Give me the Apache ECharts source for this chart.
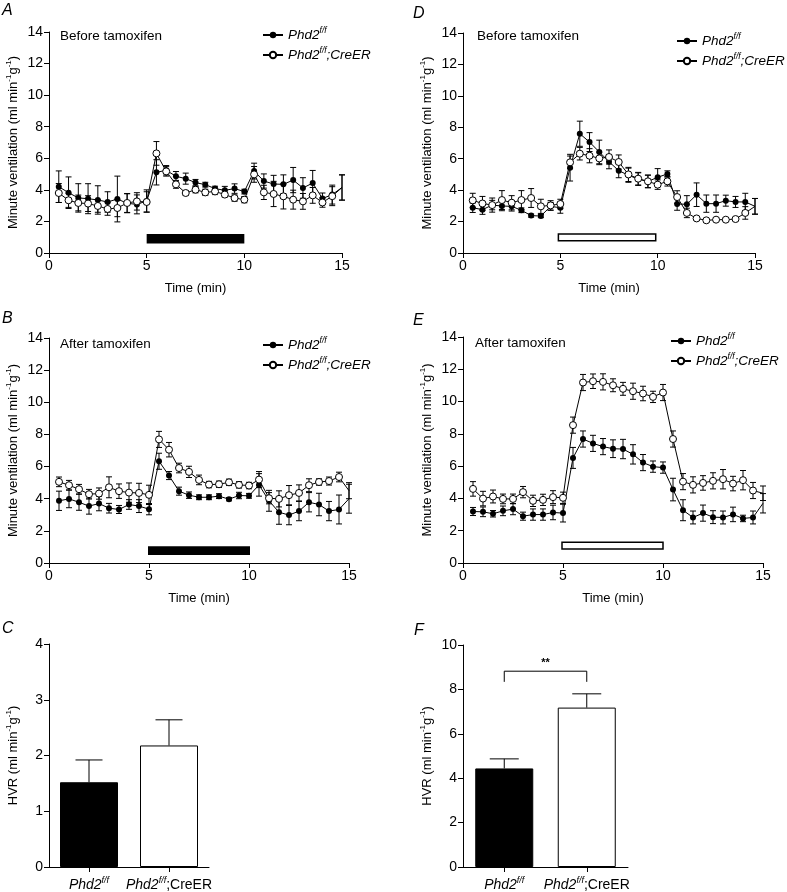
<!DOCTYPE html>
<html><head><meta charset="utf-8">
<script src="https://cdn.jsdelivr.net/npm/echarts@6/dist/echarts.min.js"></script>
<style>html,body{margin:0;padding:0;background:#fff}#c{width:787px;height:892px}</style>
</head><body><div id="c"></div>
<script>
const FONT = 'Liberation Sans, Arial, Helvetica, sans-serif';
const K = '#000';

// Time points (min)
const time = [0.5,1,1.5,2,2.5,3,3.5,4,4.5,5,5.5,6,6.5,7,7.5,8,8.5,9,9.5,10,10.5,11,11.5,12,12.5,13,13.5,14,14.5,15];

// Panel A: before tamoxifen (left)
const A_wt    = [4.2,3.82,3.49,3.44,3.36,3.23,3.42,3.15,3.08,3.3,5.11,5.24,4.86,4.71,4.46,4.33,4.08,3.97,4.08,3.89,5.19,4.56,4.37,4.35,4.62,4.12,4.43,3.45,3.7,4.15];
const A_wtErr = [1.0,1.0,0.9,0.95,0.9,0.65,1.45,0.6,0.6,0.7,0.8,0.3,0.3,0.35,0.2,0.15,0.15,0.25,0.3,0.15,0.5,0.45,0.55,0.6,0.8,0.65,0.8,0.35,0.6,0.8];
const A_ko    = [3.8,3.34,3.17,3.13,2.98,2.79,2.85,3.17,3.27,3.23,6.31,5.17,4.35,3.8,4.01,3.84,3.9,3.7,3.48,3.38,4.98,3.84,3.74,3.59,3.38,3.27,3.65,3.2,3.6,4.15];
const A_koErr = [0.6,0.45,0.5,0.5,0.4,0.4,0.55,0.6,0.55,0.65,0.75,0.3,0.25,0.15,0.2,0.2,0.2,0.15,0.2,0.2,0.5,0.45,0.8,0.8,0.6,0.5,0.5,0.3,0.6,0.8];

// Panel B: after tamoxifen (left)
const B_wt    = [3.87,3.99,3.78,3.54,3.7,3.41,3.33,3.64,3.54,3.35,6.33,5.44,4.47,4.22,4.09,4.09,4.16,3.97,4.2,4.18,4.86,3.87,3.16,2.98,3.23,3.78,3.64,3.23,3.33,4.0];
const B_wtErr = [0.6,0.55,0.5,0.5,0.45,0.3,0.25,0.3,0.4,0.35,0.5,0.25,0.25,0.2,0.15,0.15,0.15,0.1,0.2,0.15,0.7,0.65,0.75,0.6,0.6,0.6,0.7,0.6,0.9,0.9];
const B_ko    = [5.05,4.84,4.59,4.28,4.32,4.71,4.47,4.38,4.36,4.24,7.69,7.05,5.91,5.67,5.17,4.88,4.9,5.02,4.86,4.82,5.19,4.03,3.99,4.22,4.36,4.84,5.04,5.1,5.35,4.5];
const B_koErr = [0.3,0.3,0.3,0.3,0.35,0.65,0.45,0.6,0.6,0.6,0.5,0.45,0.3,0.35,0.3,0.2,0.2,0.2,0.2,0.2,0.5,0.35,0.5,0.6,0.5,0.4,0.2,0.25,0.3,0.5];

// Panel D: before tamoxifen (right)
const D_wt    = [2.88,2.76,3.05,2.99,2.97,2.72,2.38,2.35,2.97,2.88,5.43,7.59,7.06,6.43,5.81,5.24,4.95,4.7,4.55,4.82,5.03,3.12,3.1,3.71,3.14,3.14,3.33,3.25,3.25,2.97];
const D_wtErr = [0.3,0.3,0.3,0.3,0.3,0.15,0.1,0.1,0.25,0.35,0.85,0.8,0.6,0.75,0.45,0.45,0.45,0.4,0.4,0.55,0.2,0.4,0.55,0.75,0.55,0.55,0.35,0.35,0.55,0.5];
const D_ko    = [3.35,3.15,3.05,3.37,3.2,3.37,3.5,2.97,3.03,3.12,5.77,6.32,6.19,6.02,6.11,5.79,5.0,4.73,4.56,4.35,4.56,3.56,2.55,2.2,2.08,2.12,2.12,2.16,2.55,2.97];
const D_koErr = [0.45,0.45,0.45,0.6,0.45,0.6,0.6,0.45,0.3,0.3,0.4,0.4,0.45,0.4,0.45,0.45,0.45,0.4,0.4,0.3,0.3,0.4,0.3,0.1,0.1,0.1,0.1,0.1,0.4,0.5];

// Panel E: after tamoxifen (right)
const E_wt    = [3.19,3.17,3.05,3.23,3.34,2.9,3.0,3.0,3.13,3.09,6.51,7.68,7.41,7.21,7.08,7.06,6.73,6.22,5.97,5.91,4.55,3.27,2.82,3.09,2.84,2.82,3.01,2.76,2.82,3.7];
const E_wtErr = [0.25,0.3,0.2,0.3,0.35,0.25,0.35,0.35,0.45,0.55,0.65,0.5,0.5,0.5,0.55,0.6,0.6,0.5,0.35,0.35,0.7,0.65,0.4,0.5,0.4,0.4,0.45,0.2,0.4,0.6];
const E_ko    = [4.59,3.99,4.12,3.97,3.97,4.39,3.85,3.91,4.08,4.04,8.54,11.18,11.26,11.22,11.01,10.79,10.64,10.5,10.29,10.56,7.68,5.04,4.84,4.96,5.09,5.19,4.92,5.13,4.49,4.32];
const E_koErr = [0.45,0.45,0.4,0.3,0.3,0.35,0.35,0.35,0.4,0.35,0.5,0.5,0.45,0.5,0.4,0.4,0.5,0.45,0.35,0.5,0.5,0.5,0.5,0.45,0.5,0.6,0.45,0.6,0.5,0.45];

// Hypoxia bars: [xStart, xEnd, yLow, yHigh]
const stimA = [5, 10, 0.6, 1.2];
const stimB = [4.95, 10.05, 0.5, 1.05];
const stimD = [4.9, 9.9, 0.78, 1.21];
const stimE = [4.95, 10, 0.86, 1.28];

// HVR bar panels
const barCats = ['wt', 'ko'];
const C_hvr = [1.52, 2.18];
const C_err = [0.40, 0.46];
const F_hvr = [4.44, 7.18];
const F_err = [0.43, 0.62];
const F_bracket = [8.34, 8.82];

const supRich = {
  n: {fontFamily: FONT, fontSize: 13, color: K, lineHeight: 17},
  s: {fontFamily: FONT, fontSize: 8, color: K, verticalAlign: 'top', lineHeight: 10}
};
const ventName = '{n|Minute ventilation (ml min}{s|-1}{n|g}{s|-1}{n|)}';
const hvrName = '{n|HVR (ml min}{s|-1}{n|g}{s|-1}{n|)}';

const grids = [
  {left: 49, top: 32, width: 293, height: 221},   // A
  {left: 463, top: 33, width: 292, height: 220},  // D
  {left: 49, top: 338, width: 300, height: 225},  // B
  {left: 463, top: 337, width: 300, height: 226}, // E
  {left: 49, top: 644, width: 160, height: 223},  // C
  {left: 463, top: 645, width: 165, height: 222}  // F
];

const axLine = {show: true, lineStyle: {color: K, width: 1}};
const axTick = {show: true, inside: false, length: 5, lineStyle: {color: K, width: 1}};
const axLabel = {fontFamily: FONT, fontSize: 14, color: K, margin: 6};

const xAxes = [], yAxes = [];
for (let g = 0; g < 4; g++) {
  xAxes.push({type: 'value', gridIndex: g, min: 0, max: 15, interval: 5,
    axisLine: axLine, axisTick: axTick, axisLabel: axLabel, splitLine: {show: false},
    name: 'Time (min)', nameLocation: 'middle', nameGap: 29,
    nameTextStyle: {fontFamily: FONT, fontSize: 13, color: K}});
  yAxes.push({type: 'value', gridIndex: g, min: 0, max: 14, interval: 2,
    axisLine: axLine, axisTick: axTick, axisLabel: axLabel, splitLine: {show: false},
    name: ventName, nameLocation: 'middle', nameRotate: 90, nameGap: 27,
    nameTextStyle: {rich: supRich}});
}
const catFmt = v => v === 'wt' ? '{i|Phd2}{s|f/f}' : '{i|Phd2}{s|f/f}{n|;CreER}';
const catRich = {
  i: {fontFamily: FONT, fontSize: 14, color: K, fontStyle: 'italic', lineHeight: 18},
  n: {fontFamily: FONT, fontSize: 14, color: K, lineHeight: 18},
  s: {fontFamily: FONT, fontSize: 9, color: K, fontStyle: 'italic', verticalAlign: 'top', lineHeight: 11}
};
[4, 5].forEach((g, k) => {
  xAxes.push({type: 'category', gridIndex: g, data: barCats,
    axisLine: axLine, axisTick: {show: true, alignWithLabel: true, length: 5, lineStyle: {color: K}},
    axisLabel: {formatter: catFmt, rich: catRich, margin: 9, interval: 0, hideOverlap: false}, splitLine: {show: false}});
  yAxes.push({type: 'value', gridIndex: g, min: 0, max: k === 0 ? 4 : 10, interval: k === 0 ? 1 : 2,
    axisLine: axLine, axisTick: axTick, axisLabel: axLabel, splitLine: {show: false},
    name: hvrName, nameLocation: 'middle', nameRotate: 90, nameGap: 27,
    nameTextStyle: {rich: supRich}});
});

const series = [];
function errSeries(g, vals, e) {
  return {
    type: 'custom', xAxisIndex: g, yAxisIndex: g, z: 2, silent: true, animation: false,
    data: time.map((t, i) => [t, vals[i] - e[i], vals[i] + e[i]]),
    encode: {x: 0, y: [1, 2]},
    renderItem: (params, api) => {
      const x = api.value(0);
      const lo = api.coord([x, api.value(1)]), hi = api.coord([x, api.value(2)]);
      const w = 3, st = {stroke: K, lineWidth: 1};
      return {type: 'group', children: [
        {type: 'line', shape: {x1: lo[0], y1: lo[1], x2: hi[0], y2: hi[1]}, style: st},
        {type: 'line', shape: {x1: lo[0] - w, y1: lo[1], x2: lo[0] + w, y2: lo[1]}, style: st},
        {type: 'line', shape: {x1: hi[0] - w, y1: hi[1], x2: hi[0] + w, y2: hi[1]}, style: st}
      ]};
    }
  };
}
function pts(vals) {
  return time.map((t, i) => i === time.length - 1 ? {value: [t, vals[i]], symbol: 'none'} : [t, vals[i]]);
}
function linePanel(g, wt, wtE, ko, koE, stim, filled) {
  series.push(errSeries(g, wt, wtE));
  series.push(errSeries(g, ko, koE));
  series.push({type: 'line', name: 'wt', xAxisIndex: g, yAxisIndex: g, data: pts(wt),
    symbol: 'circle', symbolSize: 6, color: K, lineStyle: {color: K, width: 1},
    itemStyle: {color: K, borderColor: K, borderWidth: 0}, z: 3, animation: false, silent: true,
    markArea: {silent: true,
      itemStyle: filled ? {color: K} : {color: '#fff', borderColor: K, borderWidth: 1.5},
      data: [[{coord: [stim[0], stim[2]]}, {coord: [stim[1], stim[3]]}]]}});
  series.push({type: 'line', name: 'ko', xAxisIndex: g, yAxisIndex: g, data: pts(ko),
    symbol: 'circle', symbolSize: 7, color: K, lineStyle: {color: K, width: 1},
    itemStyle: {color: '#fff', borderColor: K, borderWidth: 1}, z: 4, animation: false, silent: true});
}
linePanel(0, A_wt, A_wtErr, A_ko, A_koErr, stimA, true);
linePanel(1, D_wt, D_wtErr, D_ko, D_koErr, stimD, false);
linePanel(2, B_wt, B_wtErr, B_ko, B_koErr, stimB, true);
linePanel(3, E_wt, E_wtErr, E_ko, E_koErr, stimE, false);

function barPanel(g, vals, errs, capHalf) {
  series.push({type: 'bar', xAxisIndex: g, yAxisIndex: g, barWidth: 58, animation: false, silent: true, z: 3,
    data: vals.map((v, i) => ({value: v, itemStyle: i === 0 ? {color: K, borderColor: K, borderWidth: 1} : {color: '#fff', borderColor: K, borderWidth: 1}}))});
  series.push({type: 'custom', xAxisIndex: g, yAxisIndex: g, z: 4, silent: true, animation: false,
    data: vals.map((v, i) => [i, v, v + errs[i]]), encode: {x: 0, y: [1, 2]},
    renderItem: (params, api) => {
      const lo = api.coord([api.value(0), api.value(1)]), hi = api.coord([api.value(0), api.value(2)]);
      const st = {stroke: K, lineWidth: 1};
      return {type: 'group', children: [
        {type: 'line', shape: {x1: lo[0], y1: lo[1], x2: hi[0], y2: hi[1]}, style: st},
        {type: 'line', shape: {x1: hi[0] - capHalf, y1: hi[1], x2: hi[0] + capHalf, y2: hi[1]}, style: st}
      ]};
    }});
}
barPanel(4, C_hvr, C_err, 13.5);
barPanel(5, F_hvr, F_err, 14.5);
series.push({type: 'custom', xAxisIndex: 5, yAxisIndex: 5, z: 5, silent: true, animation: false,
  data: [[0, 1, F_bracket[0], F_bracket[1]]], encode: {x: [0, 1], y: [2, 3]},
  renderItem: (params, api) => {
    const a = api.coord([api.value(0), api.value(2)]), b = api.coord([api.value(0), api.value(3)]);
    const c = api.coord([api.value(1), api.value(3)]), d = api.coord([api.value(1), api.value(2)]);
    return {type: 'group', children: [
      {type: 'polyline', shape: {points: [a, b, c, d]}, style: {stroke: K, lineWidth: 1, fill: null}},
      {type: 'text', style: {x: (b[0] + c[0]) / 2, y: b[1] - 3, text: '**', fill: K, font: 'bold 11px ' + FONT, align: 'center', verticalAlign: 'bottom'}}
    ]};
  }});

function legend(left, top) {
  return {left, top, orient: 'vertical', itemWidth: 20, itemHeight: 8, itemGap: 4, selectedMode: false, padding: 0,
    data: ['wt', 'ko'],
    formatter: n => n === 'wt' ? '{i|Phd2}{s|f/f}' : '{i|Phd2}{s|f/f}{i|;CreER}',
    textStyle: {rich: {
      i: {fontFamily: FONT, fontSize: 13.5, color: K, fontStyle: 'italic', lineHeight: 18},
      s: {fontFamily: FONT, fontSize: 8.5, color: K, fontStyle: 'italic', verticalAlign: 'top', lineHeight: 11}
    }}};
}
const letter = {fontFamily: FONT, fontSize: 16, fontStyle: 'italic', fontWeight: 'normal', color: K};
const note = {fontFamily: FONT, fontSize: 13.5, fontWeight: 'normal', color: K};
const option = {
  backgroundColor: '#fff',
  animation: false,
  grid: grids,
  xAxis: xAxes,
  yAxis: yAxes,
  legend: [legend(262, 26), legend(676, 32), legend(262, 336), legend(670, 332)],
  title: [
    {text: 'A', left: 2, top: 3, padding: 0, textStyle: letter},
    {text: 'D', left: 413, top: 6, padding: 0, textStyle: letter},
    {text: 'B', left: 2, top: 311, padding: 0, textStyle: letter},
    {text: 'E', left: 413, top: 313, padding: 0, textStyle: letter},
    {text: 'C', left: 2, top: 621, padding: 0, textStyle: letter},
    {text: 'F', left: 414, top: 623, padding: 0, textStyle: letter},
    {text: 'Before tamoxifen', left: 60, top: 29, padding: 0, textStyle: note},
    {text: 'Before tamoxifen', left: 477, top: 29, padding: 0, textStyle: note},
    {text: 'After tamoxifen', left: 60, top: 337, padding: 0, textStyle: note},
    {text: 'After tamoxifen', left: 475, top: 336, padding: 0, textStyle: note}
  ],
  series
};
const chart = echarts.init(document.getElementById('c'), null, {renderer: 'canvas'});
chart.setOption(option);
</script></body></html>
